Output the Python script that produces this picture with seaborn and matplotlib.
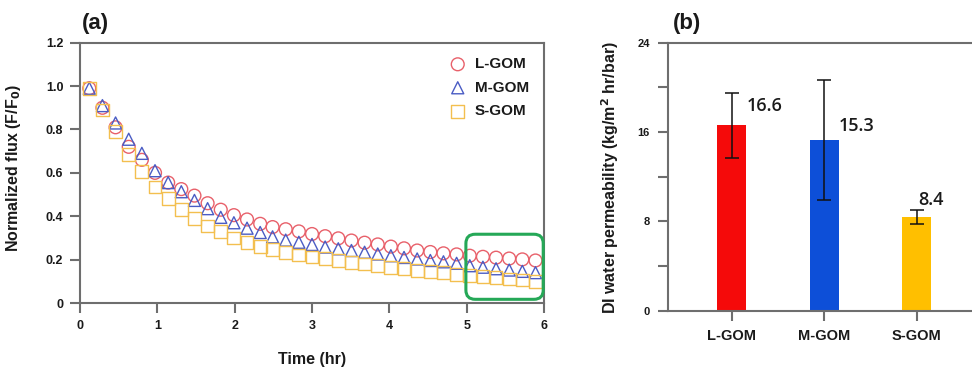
import numpy as np
import pandas as pd
import matplotlib
matplotlib.use("Agg")
import matplotlib.pyplot as plt
from matplotlib.patches import FancyBboxPatch
from matplotlib.ticker import FixedLocator
import seaborn as sns

# ---------------- data ----------------
time_hr = [0.12, 0.29, 0.46, 0.63, 0.80, 0.97, 1.14, 1.31, 1.48, 1.65,
           1.82, 1.99, 2.16, 2.33, 2.49, 2.66, 2.83, 3.00, 3.17, 3.34,
           3.51, 3.68, 3.85, 4.02, 4.19, 4.36, 4.53, 4.70, 4.87, 5.04,
           5.21, 5.38, 5.55, 5.72, 5.89]
flux_L = [0.99, 0.90, 0.81, 0.72, 0.66, 0.60, 0.555, 0.525, 0.495, 0.46,
          0.43, 0.405, 0.385, 0.365, 0.35, 0.34, 0.33, 0.318, 0.308, 0.298,
          0.288, 0.278, 0.27, 0.26, 0.252, 0.242, 0.235, 0.229, 0.224, 0.218,
          0.213, 0.209, 0.205, 0.201, 0.196]
flux_M = [0.99, 0.91, 0.83, 0.755, 0.69, 0.61, 0.555, 0.513, 0.473, 0.435,
          0.395, 0.37, 0.345, 0.325, 0.305, 0.29, 0.28, 0.27, 0.258, 0.25,
          0.242, 0.234, 0.226, 0.218, 0.21, 0.203, 0.196, 0.19, 0.183, 0.172,
          0.165, 0.158, 0.152, 0.146, 0.14]
flux_S = [0.99, 0.89, 0.79, 0.685, 0.605, 0.535, 0.48, 0.43, 0.39, 0.355,
          0.33, 0.30, 0.28, 0.26, 0.245, 0.232, 0.221, 0.212, 0.204, 0.196,
          0.188, 0.18, 0.172, 0.165, 0.158, 0.151, 0.145, 0.139, 0.133, 0.127,
          0.121, 0.116, 0.111, 0.106, 0.10]
series_names = ["L-GOM", "M-GOM", "S-GOM"]

membranes = ["L-GOM", "M-GOM", "S-GOM"]
permeability = [16.6, 15.3, 8.4]
perm_err = [2.9, 5.4, 0.6]
perm_labels = ["16.6", "15.3", "8.4"]

# ---------------- style ----------------
sns.set_theme(style="ticks")
plt.rcParams["font.family"] = ["Liberation Sans", "DejaVu Sans"]
plt.rcParams["axes.linewidth"] = 1.5
SPINE = "#6e6e6e"
TXT = "#1a1a1a"

marker_colors = ["#e8606a", "#4a5cc4", "#f3bf4f"]
marker_shapes = ["o", "^", "s"]
marker_sizes = [85, 75, 85]
bar_colors = ["#f50a0a", "#0d4fd8", "#ffbf00"]

fig = plt.figure(figsize=(9.72, 3.78), dpi=100)
ax1 = fig.add_axes([80 / 972, 75 / 378, 464 / 972, 260.3 / 378])
ax2 = fig.add_axes([667.7 / 972, 67.3 / 378, 304.3 / 972, 268 / 378])

# ---------------- panel (a) ----------------
df = pd.DataFrame({"t": time_hr * 3,
                   "flux": flux_L + flux_M + flux_S,
                   "series": sum([[n] * len(time_hr) for n in series_names], [])})
for name, col, mk, sz in zip(series_names, marker_colors, marker_shapes, marker_sizes):
    sub = df[df["series"] == name]
    sns.scatterplot(data=sub, x="t", y="flux", ax=ax1, color=col,
                    facecolor="none", edgecolor=col, marker=mk,
                    s=sz, linewidth=1.0, label=name, zorder=3)

ax1.set_xlim(0, 6)
ax1.set_ylim(0, 1.2)
ax1.set_xticks([0, 1, 2, 3, 4, 5, 6])
ax1.set_yticks([0, 0.2, 0.4, 0.6, 0.8, 1.0, 1.2])
ax1.set_yticklabels(["0", "0.2", "0.4", "0.6", "0.8", "1.0", "1.2"])
for sp in ax1.spines.values():
    sp.set_visible(True)
    sp.set_color(SPINE)
ax1.tick_params(direction="out", length=7, width=1.5, color=SPINE, pad=5,
                labelsize=9, labelcolor=TXT)
for lab in ax1.get_xticklabels() + ax1.get_yticklabels():
    lab.set_fontweight("bold")
ax1.set_xlabel("Time (hr)", fontsize=11.5, fontweight="bold", color=TXT)
ax1.set_ylabel("Normalized flux (F/F$_\\mathbf{0}$)", fontsize=11.5,
               fontweight="bold", color=TXT)
ax1.xaxis.set_label_coords(0.5, -0.19)
ax1.yaxis.set_label_coords(-0.123, 0.517)

leg = ax1.legend(loc="upper right", bbox_to_anchor=(0.99, 0.985), frameon=False,
                 prop={"weight": "bold", "size": 11}, handletextpad=0.1,
                 labelspacing=0.62, borderaxespad=0.3, markerscale=1.0)
for t in leg.get_texts():
    t.set_color(TXT)

box = FancyBboxPatch((4.99, 0.017), 1.0, 0.30,
                     boxstyle="round,pad=0,rounding_size=0.12",
                     mutation_aspect=0.356, fill=False, edgecolor="#25a857",
                     linewidth=2.2, clip_on=False, zorder=4)
ax1.add_patch(box)

# ---------------- panel (b) ----------------
bdf = pd.DataFrame({"membrane": membranes, "perm": permeability})
sns.barplot(data=bdf, x="membrane", y="perm", hue="membrane",
            palette=bar_colors, width=0.31, ax=ax2, legend=False,
            edgecolor="none", saturation=1)
ax2.errorbar(x=range(len(membranes)), y=permeability, yerr=perm_err,
             fmt="none", ecolor="#111111", elinewidth=1.1, capsize=5,
             capthick=1.1, zorder=5)
label_dx = [0.16, 0.16, 0.02]
label_dy = [1.7, 1.2, 1.5]
for i, (v, s) in enumerate(zip(permeability, perm_labels)):
    ax2.text(i + label_dx[i], v + label_dy[i], s, ha="left", va="center",
             fontsize=13, family=["Open Sans", "DejaVu Sans"], color=TXT,
             fontweight="semibold")

ax2.set_xlim(-0.692, 2.598)
ax2.set_ylim(0, 24)
ax2.yaxis.set_major_locator(FixedLocator([0, 8, 16, 24]))
ax2.yaxis.set_minor_locator(FixedLocator([4, 12, 20]))
for name in ["left", "bottom", "top"]:
    ax2.spines[name].set_visible(True)
    ax2.spines[name].set_color(SPINE)
ax2.spines["right"].set_visible(False)
ax2.tick_params(axis="both", which="both", direction="out", length=7,
                width=1.5, color=SPINE, labelcolor=TXT)
ax2.tick_params(axis="y", labelsize=8, pad=6)
ax2.tick_params(axis="x", labelsize=10.5, pad=6)
for lab in ax2.get_xticklabels() + ax2.get_yticklabels():
    lab.set_fontweight("bold")
ax2.set_xlabel("")
ax2.set_ylabel("DI water permeability (kg/m$^\\mathbf{2}$ hr/bar)", fontsize=11.5,
               fontweight="bold", color=TXT)
ax2.yaxis.set_label_coords(-0.153, 0.497)

# ---------------- panel letters ----------------
fig.text(82 / 972, 1 - 23 / 378, "(a)", fontsize=16, fontweight="bold",
         ha="left", va="center", color=TXT)
fig.text(673 / 972, 1 - 23 / 378, "(b)", fontsize=16, fontweight="bold",
         ha="left", va="center", color=TXT)

fig.savefig("out.png", dpi=100, facecolor="white")
